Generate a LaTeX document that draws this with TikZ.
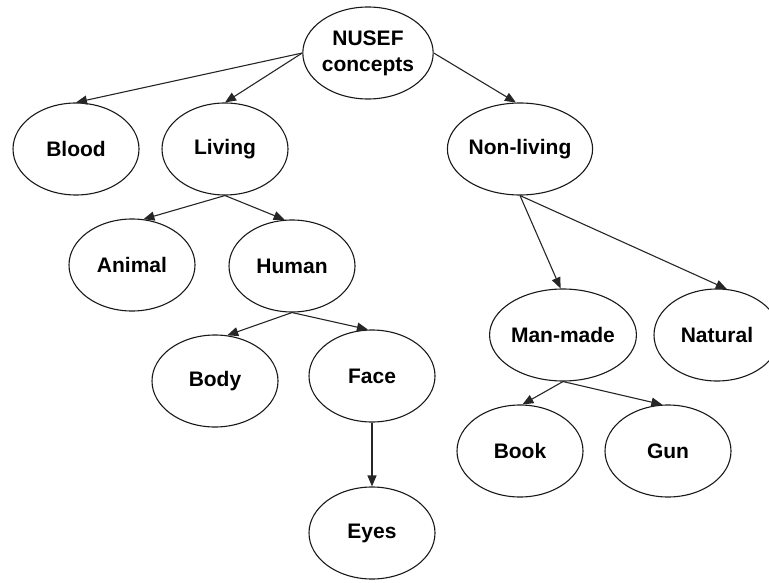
\documentclass[tikz,border=0pt]{standalone}
\usepackage{fontspec}
\setmainfont{Liberation Sans}
\usetikzlibrary{shapes.geometric,arrows.meta}
\begin{document}
\begin{tikzpicture}[x=1pt,y=-1pt,
  concept/.style={ellipse,draw=black!90,line width=1.1pt,minimum width=126pt,
    minimum height=92pt,inner sep=0pt,align=center,
    font=\fontsize{21}{26}\selectfont\bfseries},
  link/.style={draw=black!85,line width=1.1pt,
    -{Triangle[length=11pt,width=9pt]}}]
\useasboundingbox (0,0) rectangle (769,583);
\clip (0,0) rectangle (769,583);
% concept hierarchy
\node[concept] (nusef) at (368,53) {NUSEF\\concepts};
\node[concept] (blood) at (76,149) {Blood};
\node[concept] (living) at (225,149) {Living};
\node[concept] (nonliving) at (520,149) {Non-living};
\node[concept] (animal) at (132,265) {Animal};
\node[concept] (human) at (292,266) {Human};
\node[concept] (body) at (215,381) {Body};
\node[concept] (face) at (372,376) {Face};
\node[concept] (eyes) at (372,533) {Eyes};
\node[concept] (manmade) at (563,335) {Man-made};
\node[concept] (natural) at (717,335) {Natural};
\node[concept] (book) at (520,451) {Book};
\node[concept] (gun) at (668,451) {Gun};
% connectors
\draw[link] (nusef.west) -- (blood.north);
\draw[link] (nusef.west) -- (living.north);
\draw[link] (nusef.east) -- (nonliving.95);
\draw[link] (living.south) -- (animal.76);
\draw[link] (living.south) -- (human.99);
\draw[link] (human.south) -- (body.75);
\draw[link] (human.south) -- (face.95);
\draw[link] (face.south) -- (eyes.north);
\draw[link] (nonliving.south) -- (manmade.93);
\draw[link] (nonliving.south) -- (natural.78);
\draw[link] (manmade.south) -- (book.87);
\draw[link] (manmade.south) -- (gun.97);
\end{tikzpicture}
\end{document}
